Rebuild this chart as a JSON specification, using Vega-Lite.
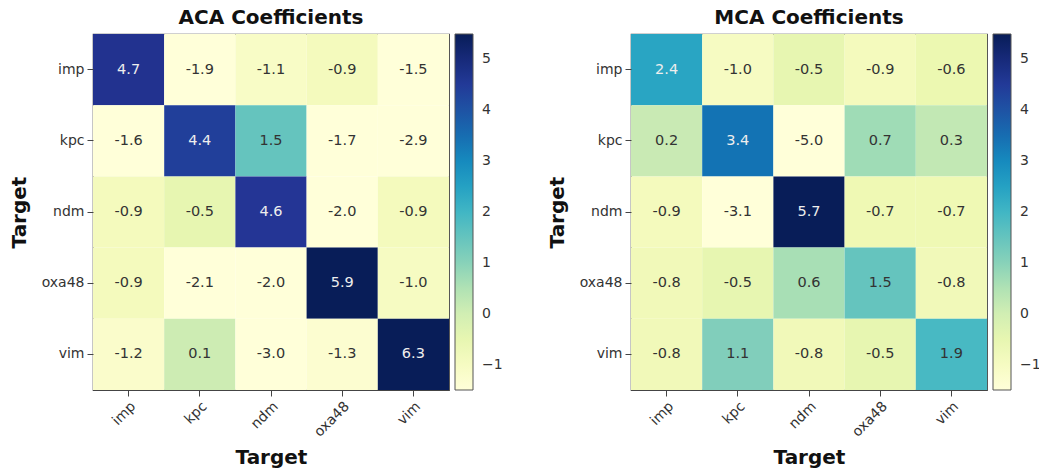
{
  "$schema": "https://vega.github.io/schema/vega-lite/v6.json",
  "padding": {"left": 8, "top": 7, "right": 0, "bottom": 0},
  "background": "white",
  "config": {
    "font": "DejaVu Sans",
    "locale": {"number": {"decimal": ".", "thousands": ",", "grouping": [3], "currency": ["$", ""], "minus": "-"}},
    "view": {"stroke": "#444", "strokeWidth": 1.2},
    "axis": {"domain": false, "grid": false, "labelFont": "DejaVu Sans", "labelFontSize": 14, "labelColor": "#333", "tickColor": "#444", "tickSize": 6, "labelPadding": 3, "titleFont": "DejaVu Sans", "titleFontSize": 20, "titleFontWeight": "bold", "titleColor": "#111"},
    "title": {"font": "DejaVu Sans", "fontSize": 20, "fontWeight": "bold", "color": "#111", "offset": 6},
    "legend": {"labelFont": "DejaVu Sans", "labelFontSize": 14, "labelColor": "#333"}
  },
  "data": {"values": [
    {"chart": "ACA", "row": "imp", "col": "imp", "value": 4.7},
    {"chart": "ACA", "row": "imp", "col": "kpc", "value": -1.9},
    {"chart": "ACA", "row": "imp", "col": "ndm", "value": -1.1},
    {"chart": "ACA", "row": "imp", "col": "oxa48", "value": -0.9},
    {"chart": "ACA", "row": "imp", "col": "vim", "value": -1.5},
    {"chart": "ACA", "row": "kpc", "col": "imp", "value": -1.6},
    {"chart": "ACA", "row": "kpc", "col": "kpc", "value": 4.4},
    {"chart": "ACA", "row": "kpc", "col": "ndm", "value": 1.5},
    {"chart": "ACA", "row": "kpc", "col": "oxa48", "value": -1.7},
    {"chart": "ACA", "row": "kpc", "col": "vim", "value": -2.9},
    {"chart": "ACA", "row": "ndm", "col": "imp", "value": -0.9},
    {"chart": "ACA", "row": "ndm", "col": "kpc", "value": -0.5},
    {"chart": "ACA", "row": "ndm", "col": "ndm", "value": 4.6},
    {"chart": "ACA", "row": "ndm", "col": "oxa48", "value": -2.0},
    {"chart": "ACA", "row": "ndm", "col": "vim", "value": -0.9},
    {"chart": "ACA", "row": "oxa48", "col": "imp", "value": -0.9},
    {"chart": "ACA", "row": "oxa48", "col": "kpc", "value": -2.1},
    {"chart": "ACA", "row": "oxa48", "col": "ndm", "value": -2.0},
    {"chart": "ACA", "row": "oxa48", "col": "oxa48", "value": 5.9},
    {"chart": "ACA", "row": "oxa48", "col": "vim", "value": -1.0},
    {"chart": "ACA", "row": "vim", "col": "imp", "value": -1.2},
    {"chart": "ACA", "row": "vim", "col": "kpc", "value": 0.1},
    {"chart": "ACA", "row": "vim", "col": "ndm", "value": -3.0},
    {"chart": "ACA", "row": "vim", "col": "oxa48", "value": -1.3},
    {"chart": "ACA", "row": "vim", "col": "vim", "value": 6.3},
    {"chart": "MCA", "row": "imp", "col": "imp", "value": 2.4},
    {"chart": "MCA", "row": "imp", "col": "kpc", "value": -1.0},
    {"chart": "MCA", "row": "imp", "col": "ndm", "value": -0.5},
    {"chart": "MCA", "row": "imp", "col": "oxa48", "value": -0.9},
    {"chart": "MCA", "row": "imp", "col": "vim", "value": -0.6},
    {"chart": "MCA", "row": "kpc", "col": "imp", "value": 0.2},
    {"chart": "MCA", "row": "kpc", "col": "kpc", "value": 3.4},
    {"chart": "MCA", "row": "kpc", "col": "ndm", "value": -5.0},
    {"chart": "MCA", "row": "kpc", "col": "oxa48", "value": 0.7},
    {"chart": "MCA", "row": "kpc", "col": "vim", "value": 0.3},
    {"chart": "MCA", "row": "ndm", "col": "imp", "value": -0.9},
    {"chart": "MCA", "row": "ndm", "col": "kpc", "value": -3.1},
    {"chart": "MCA", "row": "ndm", "col": "ndm", "value": 5.7},
    {"chart": "MCA", "row": "ndm", "col": "oxa48", "value": -0.7},
    {"chart": "MCA", "row": "ndm", "col": "vim", "value": -0.7},
    {"chart": "MCA", "row": "oxa48", "col": "imp", "value": -0.8},
    {"chart": "MCA", "row": "oxa48", "col": "kpc", "value": -0.5},
    {"chart": "MCA", "row": "oxa48", "col": "ndm", "value": 0.6},
    {"chart": "MCA", "row": "oxa48", "col": "oxa48", "value": 1.5},
    {"chart": "MCA", "row": "oxa48", "col": "vim", "value": -0.8},
    {"chart": "MCA", "row": "vim", "col": "imp", "value": -0.8},
    {"chart": "MCA", "row": "vim", "col": "kpc", "value": 1.1},
    {"chart": "MCA", "row": "vim", "col": "ndm", "value": -0.8},
    {"chart": "MCA", "row": "vim", "col": "oxa48", "value": -0.5},
    {"chart": "MCA", "row": "vim", "col": "vim", "value": 1.9}
  ]},
  "spacing": 42,
  "resolve": {"scale": {"color": "independent"}},
  "hconcat": [
    {
      "title": "ACA Coefficients",
      "width": 356,
      "height": 356,
      "transform": [{"filter": "datum.chart === 'ACA'"}],
      "encoding": {
        "x": {"field": "col", "type": "nominal", "sort": ["imp", "kpc", "ndm", "oxa48", "vim"], "scale": {"paddingInner": 0, "paddingOuter": 0}, "title": "Target", "axis": {"labelAngle": -45, "labelAlign": "right", "labelBaseline": "top", "titlePadding": 8}},
        "y": {"field": "row", "type": "nominal", "sort": ["imp", "kpc", "ndm", "oxa48", "vim"], "scale": {"paddingInner": 0, "paddingOuter": 0}, "title": "Target", "axis": {"titlePadding": 12}}
      },
      "layer": [
        {"mark": {"type": "rect"}, "encoding": {"color": {"field": "value", "type": "quantitative", "scale": {"type": "linear", "clamp": true, "domain": [-1.5, -0.625, 0.25, 1.125, 2.0, 2.875, 3.75, 4.625, 5.5], "range": ["#ffffd9", "#edf8b1", "#c7e9b4", "#7fcdbb", "#41b6c4", "#1d91c0", "#225ea8", "#253494", "#081d58"]}, "legend": {"title": null, "orient": "right", "direction": "vertical", "gradientLength": 356, "gradientThickness": 18, "gradientStrokeColor": "#555", "gradientStrokeWidth": 1, "offset": 6, "padding": 0, "values": [-1, 0, 1, 2, 3, 4, 5], "labelOverlap": false, "labelOffset": 9, "labelExpr": "replace(datum.label, '-', '\u2212')"}}}},
        {"mark": {"type": "text", "fontSize": 14.5}, "encoding": {"text": {"field": "value", "type": "quantitative", "format": ".1f"}, "color": {"condition": {"test": "datum.value > 2", "value": "#eeeeee"}, "value": "#333333"}}}
      ]
    },
    {
      "title": "MCA Coefficients",
      "width": 356,
      "height": 356,
      "transform": [{"filter": "datum.chart === 'MCA'"}],
      "encoding": {
        "x": {"field": "col", "type": "nominal", "sort": ["imp", "kpc", "ndm", "oxa48", "vim"], "scale": {"paddingInner": 0, "paddingOuter": 0}, "title": "Target", "axis": {"labelAngle": -45, "labelAlign": "right", "labelBaseline": "top", "titlePadding": 8}},
        "y": {"field": "row", "type": "nominal", "sort": ["imp", "kpc", "ndm", "oxa48", "vim"], "scale": {"paddingInner": 0, "paddingOuter": 0}, "title": "Target", "axis": {"titlePadding": 12}}
      },
      "layer": [
        {"mark": {"type": "rect"}, "encoding": {"color": {"field": "value", "type": "quantitative", "scale": {"type": "linear", "clamp": true, "domain": [-1.5, -0.625, 0.25, 1.125, 2.0, 2.875, 3.75, 4.625, 5.5], "range": ["#ffffd9", "#edf8b1", "#c7e9b4", "#7fcdbb", "#41b6c4", "#1d91c0", "#225ea8", "#253494", "#081d58"]}, "legend": {"title": null, "orient": "right", "direction": "vertical", "gradientLength": 356, "gradientThickness": 18, "gradientStrokeColor": "#555", "gradientStrokeWidth": 1, "offset": 6, "padding": 0, "values": [-1, 0, 1, 2, 3, 4, 5], "labelOverlap": false, "labelOffset": 9, "labelExpr": "replace(datum.label, '-', '\u2212')"}}}},
        {"mark": {"type": "text", "fontSize": 14.5}, "encoding": {"text": {"field": "value", "type": "quantitative", "format": ".1f"}, "color": {"condition": {"test": "datum.value > 2", "value": "#eeeeee"}, "value": "#333333"}}}
      ]
    }
  ]
}
